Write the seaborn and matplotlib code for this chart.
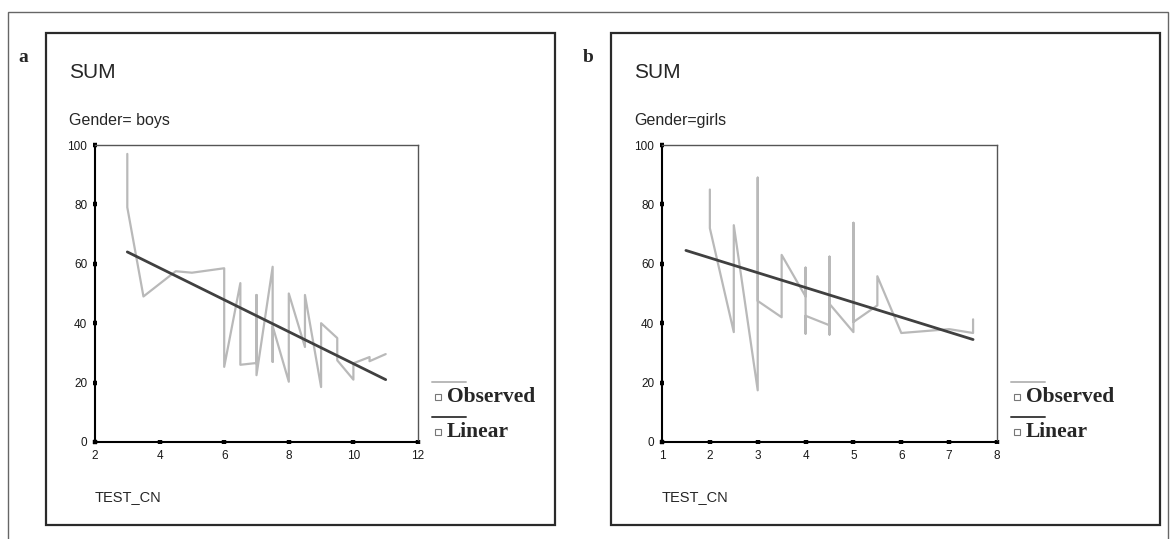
import matplotlib

matplotlib.use("Agg")
import matplotlib.pyplot as plt
import numpy as np
import pandas as pd
import seaborn as sns
from matplotlib.lines import Line2D
from matplotlib.patches import Rectangle


W, H = 1176, 539

# observed SUM values, in the order SPSS joins them
BOYS_X = [3, 3, 3.5, 4.5, 5, 6, 6, 6.5, 6.5, 7, 7, 7, 7.5, 7.5, 7.5, 8, 8,
          8.5, 8.5, 9, 9, 9.5, 9.5, 10, 10, 10.5, 10.5, 11]
BOYS_Y = [97, 79, 49, 57.5, 57, 58.5, 25.3, 53.5, 26, 26.6, 49.5, 22.5, 59, 27, 39, 20.3, 50,
          32, 49.5, 18.5, 40, 35, 27.5, 21, 26.5, 28.6, 27.2, 29.6]
GIRLS_X = [2, 2, 2.5, 2.5, 3, 3, 3, 3.5, 3.5, 4, 4, 4, 4, 4.5, 4.5, 4.5, 4.5,
           5, 5, 5, 5.5, 5.5, 6, 7, 7.5, 7.5]
GIRLS_Y = [85, 72, 37, 73, 17.4, 89, 47.5, 42, 63, 49, 58.7, 36.5, 42.5, 39.3, 62.4, 36.2, 46.5,
           37, 73.8, 40.4, 46, 55.8, 36.7, 38, 36.7, 41.3]

# linear fit end points
BOYS_FIT_X = [3, 11]
BOYS_FIT_Y = [64, 21]
GIRLS_FIT_X = [1.5, 7.5]
GIRLS_FIT_Y = [64.5, 34.5]

BOYS_XTICKS = [2, 4, 6, 8, 10, 12]
GIRLS_XTICKS = [1, 2, 3, 4, 5, 6, 7, 8]
Y_TICKS = [0, 20, 40, 60, 80, 100]

OBS_COLOR = "#b9b9b9"
FIT_COLOR = "#404040"
SANS = ["Liberation Sans", "DejaVu Sans"]
SERIF = ["Liberation Serif", "DejaVu Serif"]


def fx(px):
    return px / W


def fy(py):
    return 1 - py / H


def draw_panel(fig, left, right, panel_box, letter, gender, obs_x, obs_y, fit_x, fit_y, xticks):
    x0, y0, x1, y1 = panel_box
    fig.add_artist(Rectangle((fx(x0), fy(y1)), fx(x1 - x0), (y1 - y0) / H,
                             transform=fig.transFigure, fill=False, lw=1.6, ec="#2a2a2a"))
    fig.text(fx(x0 - 23), fy(58), letter, family=SERIF, weight="bold", fontsize=14,
             va="center", ha="center")
    fig.text(fx(x0 + 23), fy(72), "SUM", family=SANS, fontsize=15, va="center")
    fig.text(fx(x0 + 23), fy(121), gender, family=SANS, fontsize=11.5, va="center")
    fig.text(fx(left), fy(497), "TEST_CN", family=SANS, fontsize=10.5, va="center")

    ax = fig.add_axes([fx(left), fy(442), fx(right - left), (442 - 145) / H])
    sns.lineplot(x=obs_x, y=obs_y, sort=False, estimator=None, color=OBS_COLOR,
                 lw=1.6, ax=ax, legend=False)
    sns.lineplot(x=fit_x, y=fit_y, sort=False, estimator=None, color=FIT_COLOR,
                 lw=2.0, ax=ax, legend=False)
    ax.set_xlim(xticks[0], xticks[-1])
    ax.set_ylim(0, 100)
    ax.set_xticks(xticks)
    ax.set_yticks(Y_TICKS)
    ax.set_xlabel("")
    ax.set_ylabel("")
    for side in ["top", "right"]:
        ax.spines[side].set_linewidth(1.0)
        ax.spines[side].set_color("#555555")
    for side in ["left", "bottom"]:
        ax.spines[side].set_linewidth(1.5)
        ax.spines[side].set_color("black")
    # small square markers on the axis lines, as SPSS draws them
    ax.tick_params(bottom=True, left=True, length=3, width=3.2, direction="inout",
                   colors="black", labelsize=8.5, labelcolor="#1a1a1a", pad=4)
    for lab in ax.get_xticklabels() + ax.get_yticklabels():
        lab.set_family(SANS)

    # hand-drawn SPSS style legend
    lx = right + 14
    for i, (name, color) in enumerate([("Observed", OBS_COLOR), ("Linear", FIT_COLOR)]):
        ly = 382 + 35 * i
        fig.add_artist(Line2D([fx(lx), fx(lx + 34)], [fy(ly), fy(ly)],
                              transform=fig.transFigure, color=color, lw=1.4))
        fig.add_artist(Line2D([fx(lx + 6)], [fy(ly + 15)], transform=fig.transFigure,
                              marker="s", ms=4, mfc="white", mec="#777777", mew=0.8))
        fig.text(fx(lx + 15), fy(ly + 15), name, family=SERIF, weight="bold",
                 fontsize=15.5, va="center")
    return ax


def main():
    sns.set_style("white")
    plt.rcParams["font.family"] = SANS

    fig = plt.figure(figsize=(W / 100, H / 100), dpi=100)
    fig.add_artist(Rectangle((fx(8), fy(545)), fx(1160), (545 - 12) / H,
                             transform=fig.transFigure, fill=False, lw=1.0, ec="#666666"))

    draw_panel(fig, 95, 418, (46, 33, 555, 525), "a", "Gender= boys",
               BOYS_X, BOYS_Y, BOYS_FIT_X, BOYS_FIT_Y, BOYS_XTICKS)
    draw_panel(fig, 662, 997, (611, 33, 1160, 525), "b", "Gender=girls",
               GIRLS_X, GIRLS_Y, GIRLS_FIT_X, GIRLS_FIT_Y, GIRLS_XTICKS)

    fig.savefig("out.png", dpi=100)
    plt.close(fig)


if __name__ == "__main__":
    main()
